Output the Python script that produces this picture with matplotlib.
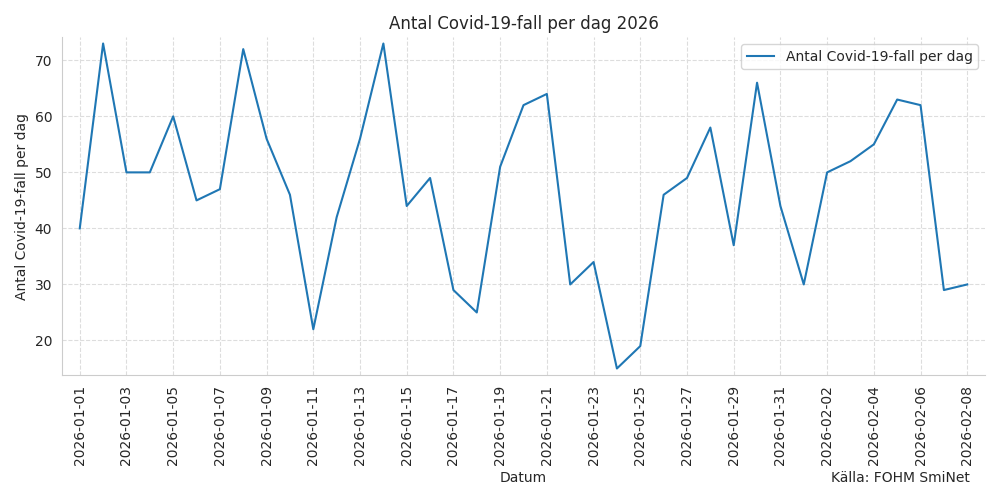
import matplotlib
matplotlib.use("Agg")
import matplotlib.pyplot as plt
import matplotlib.dates as mdates
import pandas as pd

dates = pd.date_range("2026-01-01", "2026-02-08", freq="D")
cases = [40, 73, 50, 50, 60, 45, 47, 72, 56, 46,
         22, 42, 56, 73, 44, 49, 29, 25, 51, 62,
         64, 30, 34, 15, 19, 46, 49, 58, 37, 66,
         44, 30, 50, 52, 55, 63, 62, 29, 30]
title = "Antal Covid-19-fall per dag 2026"
series_label = "Antal Covid-19-fall per dag"
source = "Källa: FOHM SmiNet"

fig, ax = plt.subplots(figsize=(10, 5), dpi=100)
fig.subplots_adjust(left=0.062, right=0.985, top=0.926, bottom=0.25)
ax.plot(dates, cases, color="#1f77b4", linewidth=1.5, label=series_label)
ax.margins(x=0.02, y=0.02)
ax.set_title(title, fontsize=12, color="#262626")
ax.set_xlabel("Datum", fontsize=10, color="#262626")
ax.set_ylabel("Antal Covid-19-fall per dag", fontsize=10, color="#262626")
ax.grid(True, linestyle="--", color="#dddddd", linewidth=0.8)
ax.set_axisbelow(True)
ax.set_xticks(dates[::2])
ax.xaxis.set_major_formatter(mdates.DateFormatter("%Y-%m-%d"))
plt.setp(ax.get_xticklabels(), rotation=90)
for s in ["top", "right"]:
    ax.spines[s].set_visible(False)
for s in ["left", "bottom"]:
    ax.spines[s].set_color("#cccccc")
ax.tick_params(length=0, pad=7, labelcolor="#262626")
ax.legend(loc="upper right", labelcolor="#262626")
fig.text(0.97, 0.03, source, ha="right", va="bottom", fontsize=10, color="#262626")
fig.savefig("out.png")
